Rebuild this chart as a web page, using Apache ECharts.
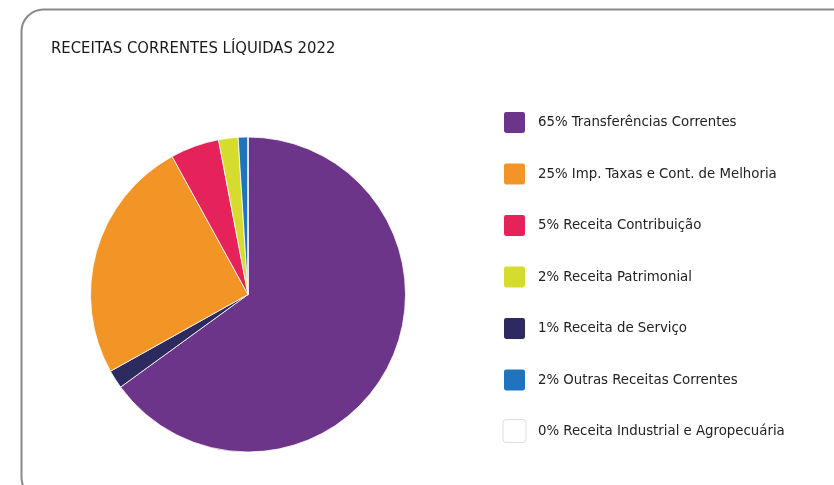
<!DOCTYPE html>
<html><head><meta charset="utf-8">
<script src="https://cdn.jsdelivr.net/npm/echarts@6/dist/echarts.min.js"></script>
<style>html,body{margin:0;padding:0;background:#fff}#c{width:834px;height:485px}</style>
</head><body><div id="c"></div>
<script>
// Slices in drawing order (clockwise from the top)
const sliceNames = ['65% Transferências Correntes','1% Receita de Serviço','25% Imp. Taxas e Cont. de Melhoria','5% Receita Contribuição','2% Receita Patrimonial','2% Outras Receitas Correntes','0% Receita Industrial e Agropecuária'];
const sliceValues = [65, 1.9, 25.1, 5, 2, 1, 0];
const sliceColors = ['#6d3589','#2c2a5e','#f39426','#e5225a','#d6dc2e','#1f74bd','#ffffff'];
// Legend order
const legendNames = ['65% Transferências Correntes','25% Imp. Taxas e Cont. de Melhoria','5% Receita Contribuição','2% Receita Patrimonial','1% Receita de Serviço','2% Outras Receitas Correntes','0% Receita Industrial e Agropecuária'];
const titleText = 'RECEITAS CORRENTES LÍQUIDAS 2022';

const font = '"DejaVu Sans Condensed","DejaVu Sans",sans-serif';
const icon = 'path://M3,0H19Q22,0 22,3V19Q22,22 19,22H3Q0,22 0,19V3Q0,0 3,0Z';
const chart = echarts.init(document.getElementById('c'), null, {renderer:'canvas'});
chart.setOption({
  animation:false,
  graphic:[{type:'rect',shape:{x:21.5,y:9.5,width:900,height:490,r:22},style:{fill:'none',stroke:'#8a8a8a',lineWidth:2},silent:true,z:-1}],
  title:{text:titleText,left:46,top:35,textStyle:{fontFamily:font,fontSize:16.5,fontWeight:'normal',color:'#1a1a1a'}},
  legend:{orient:'vertical',left:497,top:105,itemWidth:23,itemHeight:23,itemGap:26.5,icon:icon,
    data:legendNames.map(n=>n.startsWith('0%')?{name:n,itemStyle:{borderColor:'#dddddd',borderWidth:1}}:{name:n}),
    textStyle:{fontFamily:font,fontSize:14.8,lineHeight:23,color:'#222',padding:[0,0,0,7]},selectedMode:false},
  series:[{type:'pie',center:[248,294.5],radius:157.5,startAngle:90,clockwise:true,label:{show:false},labelLine:{show:false},
    itemStyle:{borderColor:'#fff',borderWidth:0.8},emphasis:{disabled:true},
    data:sliceNames.map((n,i)=>({name:n,value:sliceValues[i],itemStyle:{color:sliceColors[i]}}))}]
});
</script></body></html>
